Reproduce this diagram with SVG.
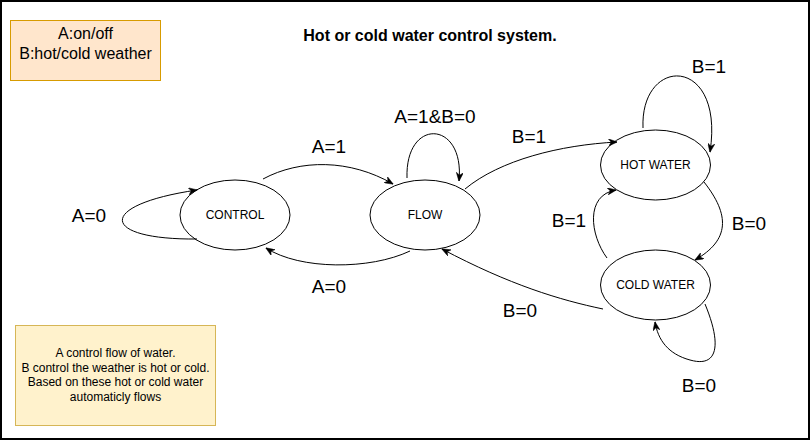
<svg xmlns="http://www.w3.org/2000/svg" width="811" height="441" viewBox="0 0 811 441">
<style>
text{font-family:"Liberation Sans",Arial,sans-serif;fill:#000;text-anchor:middle}
.st ellipse{fill:#fff;stroke:#000;stroke-width:1}
.st text{font-size:12px}
.lbl{font-size:19px}
.edges path{fill:none;stroke:#000;stroke-width:1;marker-end:url(#arr)}
</style>
<defs>
<marker id="arr" viewBox="0 0 10 8" refX="9.5" refY="4" markerWidth="9" markerHeight="7.2" markerUnits="userSpaceOnUse" orient="auto">
<path d="M0,0 L10,4 L0,8 L3,4 Z" fill="#000" stroke="#000" stroke-width="0.5"/>
</marker>
</defs>
<rect x="1" y="1" width="808" height="438" fill="#fff" stroke="#000" stroke-width="2"/>
<g id="title"><text x="430" y="41" style="font-size:16px;font-weight:bold">Hot or cold water control system.</text></g>
<g id="legend">
<rect x="10.5" y="20.5" width="150" height="60" fill="#ffe6cc" stroke="#d79b00"/>
<text x="85.5" y="39" style="font-size:16px">A:on/off</text>
<text x="85.5" y="59" style="font-size:16px">B:hot/cold weather</text>
</g>
<g id="note">
<rect x="15.5" y="325.5" width="200" height="100" fill="#fff2cc" stroke="#d6b656"/>
<text x="115.5" y="357" style="font-size:12px">A control flow of water.</text>
<text x="115.5" y="371.5" style="font-size:12px">B control the weather is hot or cold.</text>
<text x="115.5" y="386" style="font-size:12px">Based on these hot or cold water</text>
<text x="115.5" y="400.5" style="font-size:12px">automaticly flows</text>
</g>
<g id="control" class="st"><ellipse cx="235" cy="215" rx="55" ry="35"/><text x="235" y="219">CONTROL</text></g>
<g id="flow" class="st"><ellipse cx="425" cy="215" rx="55" ry="35"/><text x="425" y="219">FLOW</text></g>
<g id="hot" class="st"><ellipse cx="655.5" cy="165" rx="55" ry="35"/><text x="655.5" y="169">HOT WATER</text></g>
<g id="cold" class="st"><ellipse cx="655.5" cy="285" rx="55" ry="35"/><text x="655.5" y="289">COLD WATER</text></g>
<g id="connectors" class="edges">
<path d="M263,179 C300,159 350,159 393,184"/>
<path d="M410,251 C370,270 300,270 266,248"/>
<path d="M197,239 C100,240 95,205 197,190"/>
<path d="M407,178 C405,117 465,120 459,181"/>
<path d="M465,189 C500,160 560,145 617,142"/>
<path d="M643,128 C640,55 725,55 710,152"/>
<path d="M704,182 C730,215 730,240 695,260"/>
<path d="M607,258 C590,235 585,195 616,190"/>
<path d="M603,309 C560,300 510,285 442,249"/>
<path d="M705,304 C722,345 718,368 690,360 C668,354 658,340 655,322"/>
</g>
<g id="labels">
<text class="lbl" x="329" y="153">A=1</text>
<text class="lbl" x="329" y="293">A=0</text>
<text class="lbl" x="89" y="222">A=0</text>
<text class="lbl" x="435" y="123">A=1&amp;B=0</text>
<text class="lbl" x="529" y="143">B=1</text>
<text class="lbl" x="709" y="73">B=1</text>
<text class="lbl" x="749" y="230">B=0</text>
<text class="lbl" x="569" y="227">B=1</text>
<text class="lbl" x="520" y="317">B=0</text>
<text class="lbl" x="699" y="392">B=0</text>
</g>
</svg>
